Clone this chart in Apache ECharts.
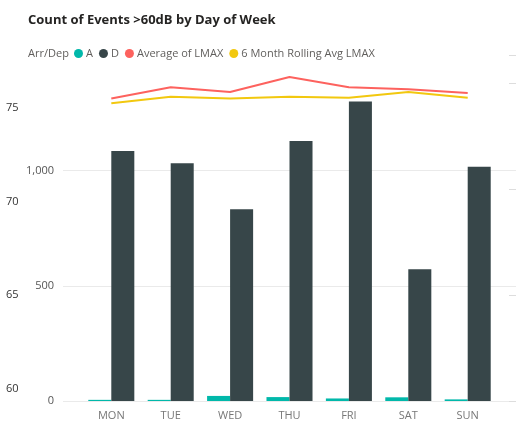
<!DOCTYPE html>
<html>
<head>
<meta charset="utf-8">
<script src="https://cdn.jsdelivr.net/npm/echarts@6/dist/echarts.min.js"></script>
<style>
  html, body { margin: 0; padding: 0; background: #fff; }
  #chart { width: 526px; height: 428px; }
</style>
</head>
<body>
<div id="chart"></div>
<script>
// ---- data ----
const days = ['MON', 'TUE', 'WED', 'THU', 'FRI', 'SAT', 'SUN'];
const countA = [5, 5, 22, 17, 11, 16, 7];
const countD = [1085, 1032, 832, 1129, 1300, 572, 1017];
const avgLmax = [75.5, 76.1, 75.85, 76.65, 76.1, 76.0, 75.8];
const rollingLmax = [75.25, 75.6, 75.5, 75.6, 75.55, 75.85, 75.55];
const countTicks = [0, 500, 1000];
const lmaxTicks = [60, 65, 70, 75];

const FONT = '"Open Sans", "Noto Sans", sans-serif';
const C_A = '#01B8AA', C_D = '#374649', C_AVG = '#FD625E', C_ROLL = '#F2C80F';

const chart = echarts.init(document.getElementById('chart'), null, { renderer: 'canvas' });

const gridTop = 55.5, gridH = 345.5;
const countMax = 1500;
const lmaxMin = 59.36, lmaxMax = 77.8;

chart.setOption({
  animation: false,
  backgroundColor: '#fff',
  textStyle: { fontFamily: FONT },
  title: {
    text: 'Count of Events >60dB by Day of Week',
    left: 28, top: 14, padding: 0,
    textStyle: { fontFamily: FONT, fontSize: 13, fontWeight: 'bold', color: '#252423' }
  },
  graphic: [{
    type: 'text', left: 28, top: 48,
    style: { text: 'Arr/Dep', fontFamily: FONT, fontSize: 11, fill: '#605E5C' }
  }],
  legend: {
    data: ['A', 'D', 'Average of LMAX', '6 Month Rolling Avg LMAX'],
    icon: 'circle', itemWidth: 9, itemHeight: 9, itemGap: 6,
    left: 74, top: 48, padding: 0,
    textStyle: { fontFamily: FONT, fontSize: 11, color: '#605E5C', padding: [0, 0, 0, -2] }
  },
  grid: [
    { left: 63, right: 10, top: gridTop, height: gridH },
    { left: 81.6, right: 28.6, top: gridTop, height: gridH }
  ],
  xAxis: [
    { type: 'category', gridIndex: 0, data: days, show: false },
    {
      type: 'category', gridIndex: 1, data: days,
      axisLine: { show: false }, axisTick: { show: false },
      axisLabel: { fontFamily: FONT, fontSize: 11, color: '#777', margin: 9 }
    }
  ],
  yAxis: [
    { // count axis labels + gridlines
      type: 'value', gridIndex: 0, min: 0, max: countMax, interval: 500,
      axisLine: { show: false }, axisTick: { show: false },
      axisLabel: {
        showMaxLabel: false, margin: 9, fontFamily: FONT, fontSize: 11, color: '#555',
        formatter: v => countTicks.includes(v) ? v.toLocaleString('en-US') : ''
      },
      splitLine: { show: true, showMaxLine: false, lineStyle: { color: '#EAEAEA', width: 1 } }
    },
    { // LMAX axis labels (far left)
      type: 'value', gridIndex: 0, min: lmaxMin, max: lmaxMax, position: 'left',
      axisLine: { show: false }, axisTick: { show: false }, splitLine: { show: false },
      axisLabel: {
        customValues: lmaxTicks, margin: 57, align: 'left',
        fontFamily: FONT, fontSize: 11, color: '#333'
      }
    },
    { // faint right-side ticks
      type: 'value', gridIndex: 0, min: 0, max: 3.26, interval: 1, position: 'right',
      axisLine: { show: false }, splitLine: { show: false },
      axisTick: { show: true, inside: true, length: 7, lineStyle: { color: '#DDD' } },
      axisLabel: { show: false }
    },
    { type: 'value', gridIndex: 1, min: 0, max: countMax, show: false },
    { type: 'value', gridIndex: 1, min: lmaxMin, max: lmaxMax, show: false }
  ],
  series: [
    {
      name: 'A', type: 'bar', xAxisIndex: 1, yAxisIndex: 3, data: countA,
      itemStyle: { color: C_A }, barGap: '0%', barCategoryGap: '22.5%'
    },
    {
      name: 'D', type: 'bar', xAxisIndex: 1, yAxisIndex: 3, data: countD,
      itemStyle: { color: C_D }, barGap: '0%', barCategoryGap: '22.5%'
    },
    {
      name: 'Average of LMAX', type: 'line', xAxisIndex: 1, yAxisIndex: 4, data: avgLmax,
      showSymbol: false, symbol: 'circle', itemStyle: { color: C_AVG },
      lineStyle: { color: C_AVG, width: 2 }, z: 5
    },
    {
      name: '6 Month Rolling Avg LMAX', type: 'line', xAxisIndex: 1, yAxisIndex: 4, data: rollingLmax,
      showSymbol: false, symbol: 'circle', itemStyle: { color: C_ROLL },
      lineStyle: { color: C_ROLL, width: 2 }, z: 4
    }
  ]
});
</script>
</body>
</html>
